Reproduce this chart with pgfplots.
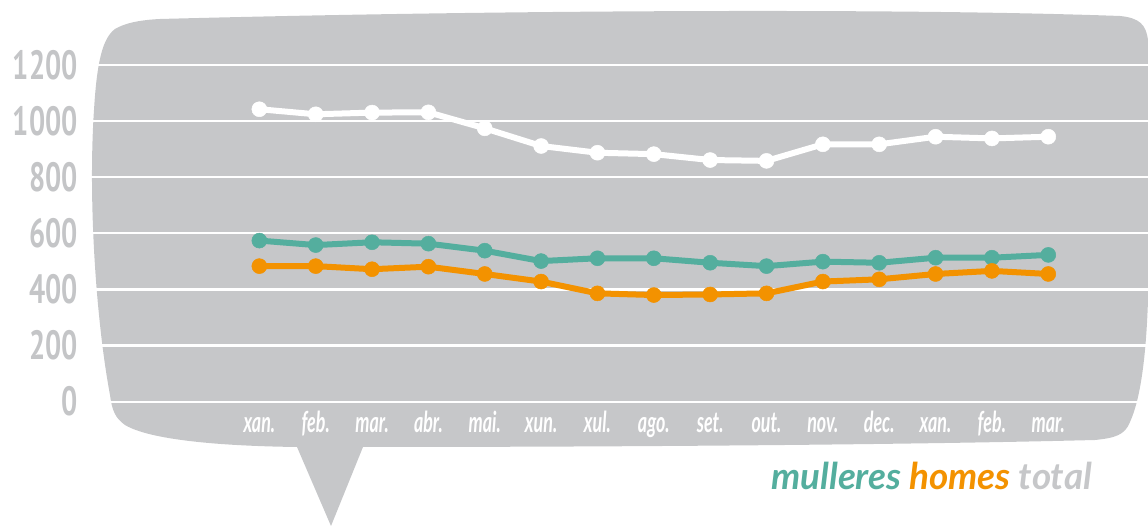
\documentclass[border=0pt]{standalone}
\usepackage{fontspec}
\usepackage{pgfplots}
\pgfplotsset{compat=1.18}
\newfontfamily\numfont[FakeStretch=0.7]{PT Sans}
\newfontfamily\handfont[FakeStretch=0.62]{Lato}
\newfontfamily\legfont{Lato}
\definecolor{cBubble}{RGB}{198,199,201}
\definecolor{cLabel}{RGB}{196,197,199}
\definecolor{cMul}{RGB}{84,174,158}
\definecolor{cHom}{RGB}{243,146,0}
\begin{document}
\begin{tikzpicture}[x=1bp,y=1bp]
\useasboundingbox (0,0) rectangle (1148,526);
% speech bubble
\fill[cBubble] (160,507)
  .. controls (500,516) and (900,518) .. (1120,510)
  .. controls (1140,508) and (1146,501) .. (1148,486)
  -- (1148,226) .. controls (1146,166) and (1140,126) .. (1130,104)
  .. controls (1125,91) and (1115,88) .. (1095,86)
  .. controls (900,81) and (600,79) .. (363,79)
  -- (331,0) -- (297,79)
  .. controls (220,80) and (150,86) .. (125,101)
  .. controls (115,108) and (112,116) .. (110,131)
  .. controls (96,206) and (88,326) .. (94,416)
  .. controls (97,466) and (103,488) .. (115,497)
  .. controls (125,503) and (140,506) .. (160,507) -- cycle;
\begin{axis}[
  at={(90.3bp,124.3bp)}, anchor=south west,
  scale only axis, width=1057.7bp, height=336.8bp,
  xmin=-3, xmax=15.77, ymin=0, ymax=1200,
  axis line style={draw=none}, clip=false,
  ymajorgrids, grid style={white, line width=2.2bp},
  major tick length=0pt,
  ytick={0,200,...,1200},
  yticklabels={0,200,400,600,800,1000,1200},
  yticklabel style={anchor=east, inner sep=0pt, xshift=-12.3bp,
    text=cLabel, font=\numfont\bfseries\fontsize{41}{41}\selectfont},
  xtick={0,...,14},
  xticklabels={xan., feb., mar., abr., mai., xun., xul., ago., set., out., nov., dec., xan., feb., mar.},
  xticklabel style={anchor=base, inner sep=0pt, yshift=-31bp,
    text=white, font=\handfont\bfseries\itshape\fontsize{29}{29}\selectfont},
]
\addplot[white, line width=6bp, mark=*, mark size=7.5bp,
  mark options={fill=white, draw=white, line width=0.5pt}] coordinates {
  (0,1042) (1,1024) (2,1030) (3,1031) (4,974) (5,911) (6,887) (7,882)
  (8,861) (9,858) (10,917) (11,917) (12,944) (13,938) (14,944)};
\addplot[cMul, line width=6bp, mark=*, mark size=7.5bp,
  mark options={fill=cMul, draw=cMul, line width=0.5pt}] coordinates {
  (0,574) (1,558) (2,568) (3,563) (4,538) (5,501) (6,511) (7,511)
  (8,495) (9,483) (10,499) (11,495) (12,513) (13,513) (14,523)};
\addplot[cHom, line width=6bp, mark=*, mark size=7.5bp,
  mark options={fill=cHom, draw=cHom, line width=0.5pt}] coordinates {
  (0,483) (1,483) (2,472) (3,481) (4,455) (5,428) (6,386) (7,380)
  (8,382) (9,386) (10,428) (11,436) (12,455) (13,466) (14,455)};
\end{axis}
\node[anchor=base west, inner sep=0pt, font=\legfont\bfseries\itshape\fontsize{37}{37}\selectfont]
  at (771,36) {\textcolor{cMul}{mulleres} \textcolor{cHom}{homes} \textcolor{cBubble}{total}};
\end{tikzpicture}
\end{document}
